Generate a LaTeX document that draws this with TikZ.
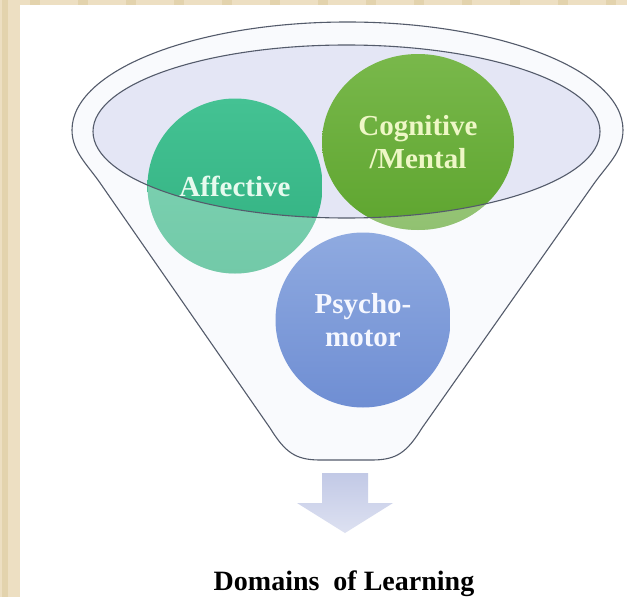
\documentclass[tikz,border=0pt]{standalone}
\usepackage{fontspec}
\setmainfont{Liberation Serif}
\usepackage{xcolor}
\usepackage{tikz}
\usetikzlibrary{shapes,positioning,calc}

\definecolor{paper}{HTML}{EDDFC2}
\definecolor{paperdark}{HTML}{E3D3AD}
\definecolor{rimgray}{HTML}{545B6B}
\definecolor{lavender}{HTML}{E4E6F5}
\definecolor{funnelwhite}{HTML}{F9FAFD}
\definecolor{afftop}{HTML}{44C293}
\definecolor{affbottom}{HTML}{31B080}
\definecolor{afftext}{HTML}{E6FAEE}
\definecolor{cogtop}{HTML}{79B84B}
\definecolor{cogbottom}{HTML}{5EA52F}
\definecolor{cogtext}{HTML}{EEF7C6}
\definecolor{psytop}{HTML}{8FAAE0}
\definecolor{psybottom}{HTML}{6F8ED3}
\definecolor{psytext}{HTML}{F5F7FF}
\definecolor{arrowtop}{HTML}{C2C9E6}
\definecolor{arrowbottom}{HTML}{DDE1F1}

\begin{document}
\begin{tikzpicture}[
    x=1pt, y=-1pt,
    domainball/.style={circle, minimum size=175, inner sep=0pt, align=center, font=\fontsize{29}{33}\selectfont\bfseries},
    rim/.style={draw=rimgray, line width=1.1pt},
    fade/.style={fill=white, fill opacity=0.32, even odd rule}
]
    % Background
    \useasboundingbox (0,0) rectangle (627,597);
    \fill[paper] (0,0) rectangle (627,597);
    \fill[paperdark] (2,0) rectangle (8,597);
    \foreach \x in {30,78,...,620} \fill[paperdark] (\x,0) rectangle ++(10,5);
    \fill[white] (20,5) rectangle (627,597);

    % Funnel
    \draw[rim, fill=funnelwhite] (623,130) arc[start angle=0, end angle=-180, x radius=275.5, y radius=108]
        .. controls (72,152) and (88,165) .. (101.5,185) -- (270,428)
        .. controls (285,452) and (295,460) .. (320,460) -- (372,460)
        .. controls (397,460) and (407,452) .. (422,428) -- (593,185)
        .. controls (607,165) and (623,152) .. cycle;
    \fill[lavender] (346.5,131.5) ellipse [x radius=253.5, y radius=86.5];

    % Domains
    \node[domainball, top color=afftop, bottom color=affbottom, text=afftext] (affective) at (235,186) {Affective};
    \node[domainball, ellipse, minimum width=192, minimum height=176, top color=cogtop, bottom color=cogbottom, text=cogtext] (cognitive) at (418,142) {Cognitive\\/Mental};
    \node[domainball, top color=psytop, bottom color=psybottom, text=psytext] (psycho) at (363,320) {Psycho-\\motor};

    % Lighter parts below the rim
    \begin{scope}
        \clip (affective.center) circle [radius=87.5];
        \fill[fade] (0,0) rectangle (627,597) (346.5,131.5) ellipse [x radius=253.5, y radius=86.5];
    \end{scope}
    \begin{scope}
        \clip (cognitive.center) ellipse [x radius=96, y radius=88];
        \fill[fade] (0,0) rectangle (627,597) (346.5,131.5) ellipse [x radius=253.5, y radius=86.5];
    \end{scope}
    \draw[rim] (346.5,131.5) ellipse [x radius=253.5, y radius=86.5];

    % Arrow and caption
    \shade[top color=arrowtop, bottom color=arrowbottom] (322,473) -- (368,473) -- (368,503) -- (393,503) -- (345,533) -- (297,503) -- (322,503) -- cycle;
    \node[anchor=base, font=\fontsize{28}{34}\selectfont\bfseries] (title) at (344,590) {Domains\ \ of Learning};
\end{tikzpicture}
\end{document}
